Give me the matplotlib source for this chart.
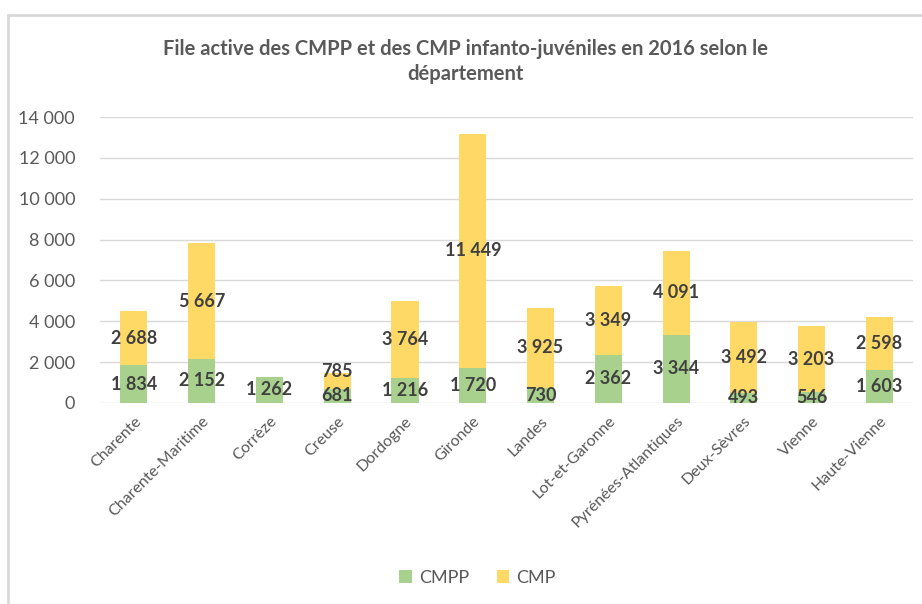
import numpy as np
import matplotlib.pyplot as plt
from matplotlib.lines import Line2D

plt.rcParams['font.family'] = ['Lato', 'DejaVu Sans']

departements = ['Charente', 'Charente-Maritime', 'Corrèze', 'Creuse', 'Dordogne',
                'Gironde', 'Landes', 'Lot-et-Garonne', 'Pyrénées-Atlantiques',
                'Deux-Sèvres', 'Vienne', 'Haute-Vienne']
cmpp = [1834, 2152, 1262, 681, 1216, 1720, 730, 2362, 3344, 493, 546, 1603]
cmp_ = [2688, 5667, 0, 785, 3764, 11449, 3925, 3349, 4091, 3492, 3203, 2598]

def fmt(v):
    return f"{int(v):,}".replace(",", " ")

fig = plt.figure(figsize=(9.22, 6.04), dpi=100)
ax = fig.add_axes([0.1085, 0.333, 0.882, 0.473])

x = np.arange(len(departements))
b1 = ax.bar(x, cmpp, width=0.4, color='#A9D18E', label='CMPP', zorder=3)
b2 = ax.bar(x, cmp_, width=0.4, bottom=cmpp, color='#FFD966', label='CMP', zorder=3)

for bars, vals in ((b1, cmpp), (b2, cmp_)):
    labels = [fmt(v) if v else '' for v in vals]
    anns = ax.bar_label(bars, labels=labels, label_type='center', fontsize=13,
                        fontweight='bold', color='#404040')
    if bars is b2:
        # small top segments: push the label up so it clears the one below
        for ann, v, w in zip(anns, vals, cmpp):
            if 0 < v < 1200 and w < 1200:
                ann.xyann = (0, 7)

ax.set_xlim(-0.5, len(departements) - 0.5)
ax.set_ylim(0, 14000)
ax.set_yticks(range(0, 14001, 2000))
ax.set_yticklabels([fmt(v) for v in range(0, 14001, 2000)], fontsize=13, color='#595959')
ax.set_xticks(x)
ax.set_xticklabels(departements, rotation=45, ha='right', rotation_mode='anchor',
                   fontsize=11.5, color='#595959')
ax.tick_params(axis='both', length=0, pad=8)
ax.tick_params(axis='y', pad=18)
ax.grid(axis='y', color='#D9D9D9', linewidth=1, zorder=0)
for s in ax.spines.values():
    s.set_visible(False)

fig.text(0.505, 0.898, "File active des CMPP et des CMP infanto-juvéniles en 2016 selon le\ndépartement",
         ha='center', va='center', fontsize=14.5, fontweight='bold', color='#595959',
         linespacing=1.3)

fig.legend(loc='center', bbox_to_anchor=(0.518, 0.043), ncol=2, frameon=False,
           fontsize=13, handlelength=0.7, handleheight=0.7, columnspacing=1.5,
           handletextpad=0.4, labelcolor='#595959')

# chart border (left and top visible)
fig.add_artist(Line2D([8 / 922, 8 / 922], [0, 1 - 15 / 604], transform=fig.transFigure,
                      color='#D9D9D9', linewidth=2))
fig.add_artist(Line2D([8 / 922, 1], [1 - 15 / 604, 1 - 15 / 604], transform=fig.transFigure,
                      color='#D9D9D9', linewidth=2))

fig.savefig('out.png', dpi=100)
